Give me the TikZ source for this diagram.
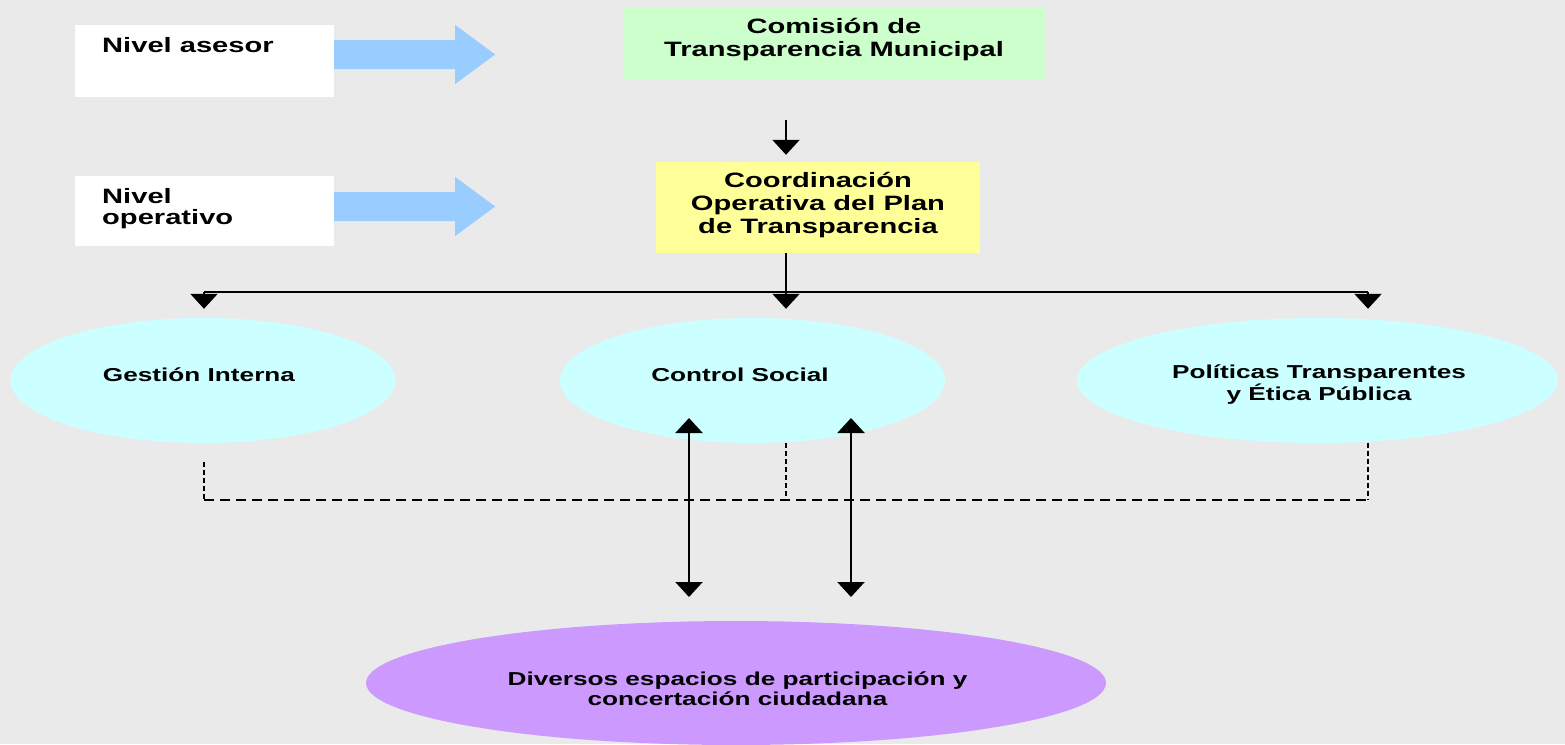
\documentclass[tikz,border=0pt]{standalone}
\usepackage{fontspec}
\newfontfamily\lab[FakeStretch=1.4]{Liberation Sans}
\usetikzlibrary{arrows.meta,shapes.geometric}
\definecolor{bg}{HTML}{EAEAEA}
\definecolor{arrowblue}{HTML}{99CCFF}
\definecolor{boxgreen}{HTML}{CCFFCC}
\definecolor{boxyellow}{HTML}{FFFF99}
\definecolor{ellcyan}{HTML}{CCFFFF}
\definecolor{ellpurple}{HTML}{CC99FF}
\tikzset{
  plainbox/.style={rectangle, draw=none, inner sep=0pt},
  ell/.style={ellipse, draw=none, inner sep=0pt},
  bigtxt/.style={font=\lab\bfseries\fontsize{20.8}{22.6}\selectfont, inner sep=0pt},
  smalltxt/.style={font=\lab\bfseries\fontsize{18.7}{20}\selectfont, inner sep=0pt},
  blockarrow/.style={fill=arrowblue, draw=none},
  tip/.style={-{Triangle[width=27pt,length=15pt]}},
  dtip/.style={{Triangle[width=27pt,length=15pt]}-{Triangle[width=27pt,length=15pt]}},
  conn/.style={line width=2.2pt, black},
  thinconn/.style={line width=1.4pt, black},
  dashh/.style={line width=1.4pt, dash pattern=on 10pt off 6pt},
  dashv/.style={line width=1.8pt, dash pattern=on 5pt off 3pt},
}
\begin{document}
\begin{tikzpicture}[x=1pt,y=-1pt]
\fill[bg] (0,0) rectangle (1565,744);
\useasboundingbox (0,0) rectangle (1565,744);

% left level boxes
\node[plainbox, fill=white, minimum width=259pt, minimum height=72pt] (asesor) at (204.5,61) {};
\node[bigtxt, anchor=base west, align=left] (asesortxt) at (102,52) {Nivel asesor};
\node[plainbox, fill=white, minimum width=259pt, minimum height=70pt] (operativo) at (204.5,211) {};
\node[bigtxt, anchor=base west, align=left, font=\lab\bfseries\fontsize{20.8}{21.5}\selectfont] (operativotxt) at (102,224.5) {Nivel\\operativo};

% blue block arrows
\fill[blockarrow] (asesor.east) ++(0,-21) -- ++(121,0) -- ++(0,-15) -- ++(40,29.5) -- ++(-40,29.5) -- ++(0,-15) -- ++(-121,0) -- cycle;
\fill[blockarrow] (operativo.east) ++(0,-19) -- ++(121,0) -- ++(0,-15) -- ++(40,29.5) -- ++(-40,29.5) -- ++(0,-15) -- ++(-121,0) -- cycle;

% top boxes
\node[plainbox, fill=boxgreen, minimum width=421pt, minimum height=72pt] (com) at (834.5,43) {};
\node[bigtxt, anchor=base, align=center, font=\lab\bfseries\fontsize{20.8}{23}\selectfont] (comtxt) at (834,56) {Comisión de\\Transparencia Municipal};
\node[plainbox, fill=boxyellow, minimum width=324pt, minimum height=91pt] (coord) at (818,207.5) {};
\node[bigtxt, anchor=base, align=center] (coordtxt) at (818,233) {Coordinación\\Operativa del Plan\\de Transparencia};

% ellipses
\node[ell, fill=ellcyan, minimum width=385pt, minimum height=125pt] (gi) at (203,380.5) {};
\node[smalltxt, anchor=base] (gitxt) at (199,381) {Gestión Interna};
\node[ell, fill=ellcyan, minimum width=385pt, minimum height=125pt] (cs) at (752.5,380.5) {};
\node[smalltxt, anchor=base] (cstxt) at (740,381) {Control Social};
\node[ell, fill=ellcyan, minimum width=481pt, minimum height=125pt] (pol) at (1317.5,380.5) {};
\node[smalltxt, anchor=base, align=center] (poltxt) at (1319,400) {Políticas Transparentes\\y Ética Pública};
\node[ell, fill=ellpurple, minimum width=740pt, minimum height=124pt] (pe) at (736,683) {};
\node[smalltxt, anchor=base, align=center] (petxt) at (737.5,705) {Diversos espacios de participación y\\concertación ciudadana};

% coordinates
\coordinate (t1) at (786,120);
\coordinate (hub) at (786,292);
\coordinate (hl) at (204,292);
\coordinate (hr) at (1368,292);
\coordinate (d1) at (204,462);
\coordinate (d2) at (204,500);
\coordinate (d3) at (1368,500);
\coordinate (u1) at (689,418);
\coordinate (v1) at (689,597);
\coordinate (u2) at (851,418);
\coordinate (v2) at (851,597);

% black connectors
\draw[conn, tip, shorten >=7pt] (t1) -- (coord.north -| t1);
\draw[conn] (coord.south -| t1) -- (hub);
\draw[thinconn] (hl) -- (hr);
\draw[conn, tip, shorten >=9pt] (hl) -- (hl |- gi.north);
\draw[conn, tip, shorten >=9pt] (hub) -- (hub |- cs.north);
\draw[conn, tip, shorten >=9pt] (hr) -- (hr |- pol.north);

% dashed
\draw[dashv] (d1) -- (d2);
\draw[dashh] (d2) -- (d3);
\draw[dashv] (hub |- cs.south) -- (hub |- d2);
\draw[dashv] (hr |- pol.south) -- (d3);

% double arrows
\draw[conn, dtip] (u1) -- (v1);
\draw[conn, dtip] (u2) -- (v2);
\end{tikzpicture}
\end{document}
